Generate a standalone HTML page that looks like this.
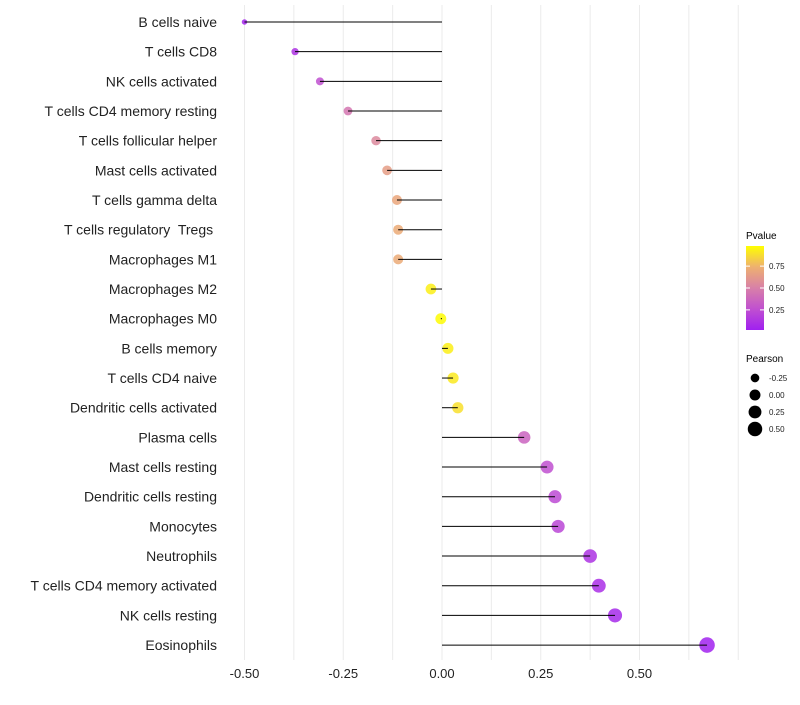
<!DOCTYPE html>
<html><head><meta charset="utf-8"><style>
body{margin:0;background:#fff;font-family:"Liberation Sans",sans-serif}
text{white-space:pre}
</style></head><body>
<svg id="chart" width="800" height="700" xmlns="http://www.w3.org/2000/svg"></svg>
<script>
const categories=["B cells naive","T cells CD8","NK cells activated","T cells CD4 memory resting","T cells follicular helper","Mast cells activated","T cells gamma delta","T cells regulatory  Tregs ","Macrophages M1","Macrophages M2","Macrophages M0","B cells memory","T cells CD4 naive","Dendritic cells activated","Plasma cells","Mast cells resting","Dendritic cells resting","Monocytes","Neutrophils","T cells CD4 memory activated","NK cells resting","Eosinophils"];
const pearson=[-0.50,-0.372,-0.309,-0.238,-0.167,-0.139,-0.114,-0.111,-0.111,-0.028,-0.003,0.015,0.028,0.04,0.208,0.266,0.286,0.294,0.375,0.397,0.438,0.671];
const pvalue=[0.02,0.1,0.25,0.45,0.55,0.65,0.7,0.72,0.72,0.95,0.99,0.95,0.93,0.9,0.35,0.25,0.22,0.2,0.1,0.08,0.05,0.01];
const xTicks=[-0.5,-0.25,0,0.25,0.5];
const xTickLabels=["-0.50","-0.25","0.00","0.25","0.50"];
const legendP=[0.75,0.5,0.25];
const legendR=[-0.25,0,0.25,0.5];

const NS="http://www.w3.org/2000/svg";
const svg=document.getElementById('chart');
const X=v=>442+v*395;
const Y=i=>22+i*29.67;
const R=v=>Math.sqrt(Math.max(2.25,30+45*v));
const stops=[[0,[160,32,240]],[0.25,[192,80,208]],[0.5,[216,128,168]],[0.75,[238,176,112]],[1,[255,255,0]]];
function col(p){for(let i=1;i<stops.length;i++){if(p<=stops[i][0]){const a=stops[i-1],b=stops[i],t=(p-a[0])/(b[0]-a[0]);return 'rgb('+a[1].map((c,k)=>Math.round(c+(b[1][k]-c)*t)).join(',')+')';}}return 'rgb(255,255,0)';}
function el(t,a,txt){const e=document.createElementNS(NS,t);for(const k in a)e.setAttribute(k,a[k]);if(txt!==undefined)e.textContent=txt;svg.appendChild(e);return e;}

for(let v=-0.5;v<=0.75;v+=0.125){const g=el('line',{x1:X(v),x2:X(v),y1:5,y2:660,stroke:'#ebebeb','stroke-width':1});

}
xTicks.forEach((t,i)=>{const e=el('text',{x:X(t),y:678,'text-anchor':'middle','font-size':13,fill:'#222'},xTickLabels[i]);

});
categories.forEach((c,i)=>{
const lab=el('text',{x:217,y:Y(i)+5,'text-anchor':'end','font-size':14,fill:'#222'},c);


const pt=el('circle',{cx:X(pearson[i]),cy:Y(i),r:R(pearson[i]),fill:col(pvalue[i]),'fill-opacity':0.85});


const ln=el('line',{x1:X(0),x2:X(pearson[i]),y1:Y(i),y2:Y(i),stroke:'#000','stroke-width':1});


});
const lt=el('text',{x:746,y:239,'font-size':10,fill:'#000'},'Pvalue');


const defs=el('defs',{});
const lg=document.createElementNS(NS,'linearGradient');lg.setAttribute('id','pg');lg.setAttribute('x1',0);lg.setAttribute('x2',0);lg.setAttribute('y1',1);lg.setAttribute('y2',0);
stops.forEach(s=>{const st=document.createElementNS(NS,'stop');st.setAttribute('offset',s[0]);st.setAttribute('stop-color',col(s[0]));lg.appendChild(st);});
defs.appendChild(lg);
const bar=el('rect',{x:746,y:246,width:18,height:84,fill:'url(#pg)'});


legendP.forEach(p=>{const yy=330-(p-0.02)/0.96*84;
el('line',{x1:746,x2:750,y1:yy,y2:yy,stroke:'#fff'});el('line',{x1:760,x2:764,y1:yy,y2:yy,stroke:'#fff'});
const t=el('text',{x:769,y:yy+3,'font-size':8,fill:'#222'},p.toFixed(2));

});
const pt2=el('text',{x:746,y:362,'font-size':10,fill:'#000'},'Pearson');


legendR.forEach((v,i)=>{const yy=378+i*17;
const c=el('circle',{cx:755,cy:yy,r:R(v),fill:'#000'});


const t=el('text',{x:769,y:yy+3,'font-size':8,fill:'#222'},v===-0.25?'-0.25':v.toFixed(2));

});
</script>
</body></html>
